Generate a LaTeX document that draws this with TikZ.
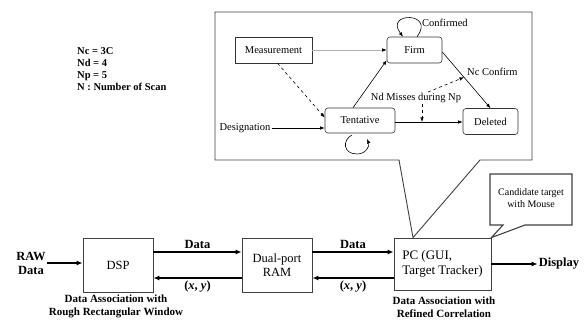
\documentclass[tikz,border=0pt]{standalone}
\usepackage{fontspec}
\setmainfont{Liberation Serif}
\usetikzlibrary{arrows.meta}
\begin{document}
\begin{tikzpicture}[x=1pt,y=-1pt]
\tikzset{
 blk/.style={draw=black!75, line width=0.8pt, fill=white, inner sep=2pt, font=\fontsize{12.5}{14}\selectfont, align=center},
 st/.style={draw=black!80, line width=0.6pt, rounded corners=3pt, fill=white, inner sep=1pt, font=\fontsize{10.5}{12}\selectfont},
 sq/.style={st, rounded corners=0pt},
 txt/.style={font=\fontsize{10.5}{12}\selectfont, inner sep=1pt},
 bl/.style={font=\bfseries\fontsize{12.5}{14}\selectfont, inner sep=1pt, align=center},
 sbl/.style={font=\bfseries\fontsize{11}{13}\selectfont, inner sep=0pt, align=center},
 big/.style={line width=1.8pt, -{Latex[length=6pt,width=5pt]}},
 arw/.style={line width=0.6pt, -{Latex[length=4.5pt,width=3.5pt,color=black]}},
 co/.style={draw=black!75, line width=0.9pt, fill=white, line join=miter}
}
\useasboundingbox (0,0) rectangle (586,320);

% main blocks
\node[blk, minimum width=70pt, minimum height=54pt] (dsp) at (118,265) {DSP};
\node[blk, minimum width=70pt, minimum height=54pt] (ram) at (277,265) {Dual-port\\RAM};
\node[blk, minimum width=97pt, minimum height=52pt, align=left, font=\fontsize{13}{15}\selectfont] (pc) at (442.5,264) {PC (GUI,\\Target Tracker)};

% big callout
\coordinate (pctip) at ([xshift=-29.5pt]pc.north);
\draw[co] (215,12) -- (532,12) -- (532,160) -- (480,160) -- (pctip) -- (399,160) -- (215,160) -- cycle;

% small callout
\draw[co, line width=1.1pt] (490,174) -- (572,174) -- (572,225) -- (525,225) -- (pc.north east) -- (503,225) -- (490,225) -- cycle;
\node[txt, align=center, font=\fontsize{10}{12}\selectfont] (cand) at (531,198) {Candidate target\\with Mouse};

% left labels
\node[bl] (raw) at (31,263) {RAW\\Data};
\node[sbl, font=\bfseries\fontsize{10.5}{12}\selectfont, align=left, anchor=north west] (leg) at (77,47) {Nc = 3C\\Nd = 4\\Np = 5\\N : Number of Scan};
\node[sbl] (lab1) at (116,306) {Data Association with\\Rough Rectangular Window};
\node[sbl] (lab2) at (444,307) {Data Association with\\Refined Correlation};
\node[bl] (disp) at (559,264) {Display};

% main arrows
\draw[big] (raw.east) -- (raw.east -| dsp.west);
\draw[big] ([yshift=13pt]dsp.east) -- node[bl, above=1pt]{Data} ([yshift=13pt]ram.west);
\draw[big] ([yshift=-13pt]ram.west) -- node[bl, below=1pt]{(\textit{x}, \textit{y})} ([yshift=-13pt]dsp.east);
\draw[big] ([yshift=13pt]ram.east) -- node[bl, above=1pt]{Data} ([yshift=13pt]ram.east -| pc.west);
\draw[big] ([yshift=-13pt]ram.east -| pc.west) -- node[bl, below=1pt]{(\textit{x}, \textit{y})} ([yshift=-13pt]ram.east);
\draw[big] (pc.east) -- (pc.east -| disp.west);

% state diagram
\node[sq, minimum width=77pt, minimum height=26pt] (meas) at (273.5,50) {Measurement};
\node[st, minimum width=55pt, minimum height=26pt] (firm) at (414.5,50) {Firm};
\node[st, minimum width=70pt, minimum height=25pt] (tent) at (360,120.5) {Tentative};
\node[st, minimum width=55pt, minimum height=26pt] (del) at (490.5,121.5) {Deleted};
\node[txt] (desig) at (245,128) {Designation};
\node[txt, anchor=west] (conf) at (421,23) {Confirmed};
\node[txt] (nd) at (416,98) {Nd Misses during Np};
\node[txt, anchor=west] (ncc) at (466,72) {Nc Confirm};

\draw[arw, draw=gray!60] (meas.east) -- (firm.west);
\draw[arw, dashed] ([xshift=4pt]meas.south) -- ([yshift=3pt]tent.west);
\draw[arw] (desig.east) -- (desig.east -| tent.west);
\draw[arw] ([xshift=-7pt]tent.north) -- ([yshift=3pt]firm.south west);
\coordinate (tdl) at ([yshift=-1.5pt]tent.east);
\draw[arw] (tdl) -- (tdl -| del.west);
\coordinate (fde) at ([yshift=-2pt]firm.east);
\draw[arw] (fde) -- (del.north);
\path (fde) -- (del.north) coordinate[pos=0.45] (fdmid);
\draw[arw, dashed] ([xshift=12pt]nd.north) -- (fdmid);
\coordinate (ndb) at ([xshift=6pt]nd.south);
\draw[arw, dashed] (ndb) -- (ndb |- tdl);
% self loops
\draw[arw] ([xshift=2.5pt]firm.north) .. controls +(19,-25) and +(-19,-25) .. ([xshift=-11.5pt]firm.north);
\draw[arw] (352,135) .. controls (342,140) and (343,154) .. (357,154) .. controls (366,154) and (370,146) .. (367,139);
\end{tikzpicture}
\end{document}
